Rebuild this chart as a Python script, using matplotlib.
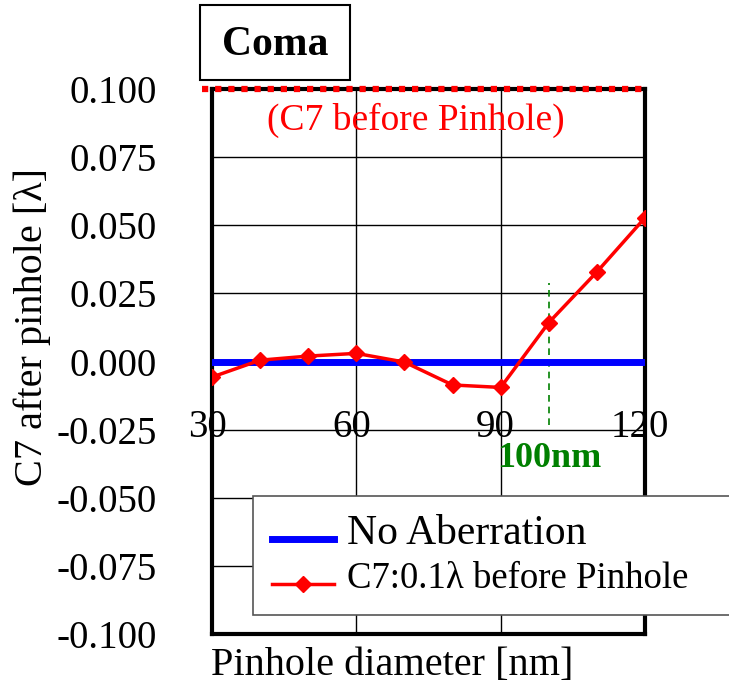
import matplotlib
matplotlib.use("Agg")
import matplotlib.pyplot as plt
from matplotlib.patches import Rectangle

# data
diameters = [30, 40, 50, 60, 70, 80, 90, 100, 110, 120]
c7_before = [-0.0057, 0.0005, 0.0020, 0.0030, -0.0002, -0.0086, -0.0095, 0.0143, 0.0329, 0.0528]
no_aberration = [0.0, 0.0, 0.0, 0.0, 0.0, 0.0, 0.0, 0.0, 0.0, 0.0]
c7_input = 0.100
marker_nm = 100
x_ticks = [30, 60, 90, 120]
y_ticks = [-0.100, -0.075, -0.050, -0.025, 0.000, 0.025, 0.050, 0.075, 0.100]

plt.rcParams['font.family'] = ['Liberation Serif', 'DejaVu Serif']


def plot_coma() -> None:
    fig = plt.figure(figsize=(7.29, 6.88), dpi=100)
    ax = fig.add_axes([0.2908, 0.0785, 0.594, 0.792])

    ax.set_xlim(30, 120)
    ax.set_ylim(-0.1, 0.1)

    # grid
    ax.set_xticks(x_ticks)
    ax.set_yticks(y_ticks)
    ax.grid(True, color='black', linewidth=1.0)
    ax.set_axisbelow(True)
    for s in ax.spines.values():
        s.set_linewidth(3)

    ax.set_yticklabels([f"{v:.3f}" for v in y_ticks])
    ax.tick_params(axis='y', length=0, pad=40, labelsize=28)
    ax.tick_params(axis='x', length=0, labelbottom=False)

    # x tick labels sit just below the zero line
    for xt in x_ticks:
        ax.annotate(str(xt), xy=(xt, -0.025), xytext=(-5, 2), textcoords='offset pixels',
                    ha='center', va='center', fontsize=28, zorder=1)

    # input value line
    ax.plot([28, 120], [c7_input, c7_input], color='red', linewidth=4.5,
            dashes=(1, 1.1), clip_on=False, zorder=5)
    ax.text(72.4, 0.0885, "(C7 before Pinhole)", color='red', fontsize=27,
            ha='center', va='center')

    ax.plot(diameters, no_aberration, color='blue', linewidth=5, label='No Aberration', zorder=3)
    ax.plot(diameters, c7_before, color='red', linewidth=2.5, marker='D', markersize=8,
            label='C7:0.1λ before Pinhole', zorder=4)

    ax.plot([marker_nm, marker_nm], [-0.0233, 0.029], color='green', linewidth=1.2,
            linestyle=(0, (4, 3)), zorder=2)
    ax.text(marker_nm, -0.0355, "100nm", color='green', fontsize=26, fontweight='bold',
            ha='center', va='center')

    ax.set_xlabel("Pinhole diameter [nm]", fontsize=29)
    ax.xaxis.set_label_coords(0.416, -0.024)
    ax.set_ylabel("C7 after pinhole [λ]", fontsize=29)
    ax.yaxis.set_label_coords(-0.372, 0.563)

    leg = fig.legend(loc='upper left', bbox_to_anchor=(0.347, 0.0, 0.70, 0.279),
                     mode='expand', fancybox=False, edgecolor='#555555', framealpha=1,
                     borderaxespad=0, handlelength=4.5, borderpad=1.35,
                     labelspacing=0.62, handletextpad=0.95)
    leg.get_frame().set_linewidth(1.2)
    texts = leg.get_texts()
    texts[0].set_fontsize(30)
    texts[1].set_fontsize(26.5)

    # title box
    fig.text(275 / 729, 1 - 45 / 688, "Coma", fontsize=30, fontweight='bold',
             ha='center', va='center')
    fig.patches.append(Rectangle((200 / 729, 1 - 80 / 688), 150 / 729, 75 / 688,
                                 transform=fig.transFigure, fill=False,
                                 edgecolor='black', linewidth=1.5))

    fig.savefig("out.png", dpi=100)


def main() -> None:
    plot_coma()


if __name__ == "__main__":
    main()
